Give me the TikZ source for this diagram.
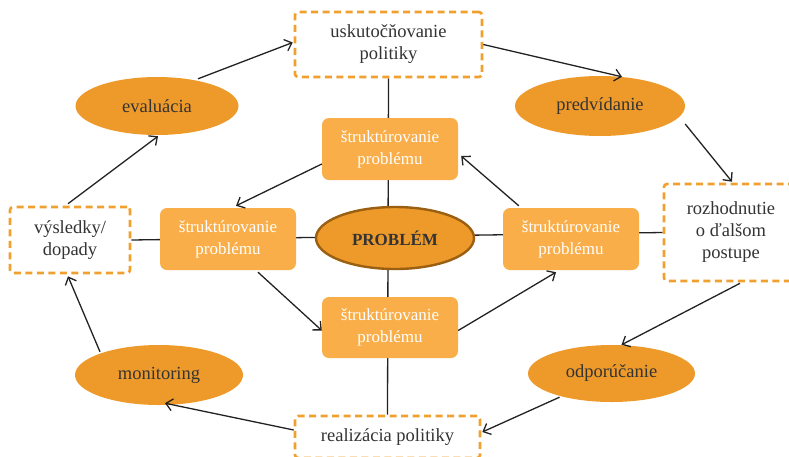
\documentclass[tikz,border=0pt]{standalone}
\usepackage{fontspec}
\setmainfont{Liberation Serif}
\usetikzlibrary{arrows.meta,shapes.geometric,calc,backgrounds}
\definecolor{ellorange}{HTML}{EE9A2A}
\definecolor{boxorange}{HTML}{F9AE4A}
\definecolor{dashorange}{HTML}{F0A02E}
\definecolor{probborder}{HTML}{9A5F10}
\definecolor{txtgray}{HTML}{333333}
\definecolor{linegray}{HTML}{222222}
\begin{document}
\begin{tikzpicture}[x=1pt,y=-1pt,
  dbox/.style={draw=dashorange, line width=2.6pt, dash pattern=on 7pt off 4.5pt,
    rounded corners=3pt, fill=white, align=center, text=txtgray, inner sep=0pt,
    font=\fontsize{18.5}{22}\selectfont},
  ell/.style={ellipse, fill=ellorange, text=txtgray, inner sep=0pt,
    font=\fontsize{18.5}{22}\selectfont},
  sbox/.style={rounded corners=7pt, fill=boxorange, text=white, align=center,
    inner sep=0pt, minimum width=136pt, font=\fontsize{17}{22}\selectfont},
  arr/.style={draw=linegray, line width=1.3pt, -{Straight Barb[length=6.5pt,width=12pt,line width=1.3pt]}},
  plain/.style={draw=linegray, line width=1.3pt}]
\useasboundingbox (0,0) rectangle (789,456);
% outer dashed boxes
\node[dbox, minimum width=187pt, minimum height=65pt] (tb) at (388.5,44.5) {uskutočňovanie\\politiky};
\node[dbox, minimum width=120pt, minimum height=66pt] (lb) at (70,240) {výsledky/\\dopady};
\node[dbox, minimum width=134pt, minimum height=97pt] (rb) at (731,232.5) {rozhodnutie\\o ďalšom\\postupe};
\node[dbox, minimum width=185pt, minimum height=42pt] (bb) at (387.5,437) {realizácia politiky};
% ellipses
\node[ell, minimum width=163pt, minimum height=58pt] (ev) at (157,106) {evaluácia};
\node[ell, minimum width=170pt, minimum height=60pt] (pv) at (600,106) {predvídanie};
\node[ell, minimum width=168pt, minimum height=60pt] (mo) at (159,375) {monitoring};
\node[ell, minimum width=167pt, minimum height=57pt] (od) at (611.5,373.5) {odporúčanie};
% center
\node[ellipse, fill=ellorange, draw=probborder, line width=2.4pt, minimum width=158pt,
  minimum height=62pt, text=txtgray, font=\fontsize{17}{20}\selectfont\bfseries] (pr) at (395,238) {PROBLÉM};
\node[sbox, minimum height=62pt] (st) at (390,149) {štruktúrovanie\\problému};
\node[sbox, minimum height=62pt] (sl) at (228,239) {štruktúrovanie\\problému};
\node[sbox, minimum height=62pt] (sr) at (571,239) {štruktúrovanie\\problému};
\node[sbox, minimum height=61pt] (sb) at (390,327.5) {štruktúrovanie\\problému};
\begin{scope}[on background layer]
\draw[plain] (tb.south) -- (bb.north);
\draw[plain] (lb.east) -- (rb.west);
\end{scope}
% inner arrows
\draw[arr] ($(sr.north west)+(16,-2)$) -- ($(st.east)+(3,7)$);
\draw[arr] ($(st.west)+(0,15)$) -- ($(sl.north)+(8,-2)$);
\draw[arr] ($(sl.south)+(30,2)$) -- ($(sb.west)+(0,3)$);
\draw[arr] ($(sb.east)+(0,3)$) -- ($(sr.south)+(-15,2)$);
% outer arrows
\draw[arr] ($(ev.north)+(41,2)$) -- ($(tb.west)+(-1,-2)$);
\draw[arr] (tb.east) -- ($(pv.north)+(22,1)$);
\draw[arr] ($(pv.east)+(0,18)$) -- ($(rb.north)+(1,-1)$);
\draw[arr] ($(rb.south)+(9,1)$) -- ($(od.north)+(10,0)$);
\draw[arr] ($(od.south)+(-52,-5)$) -- ($(bb.east)+(1,-5)$);
\draw[arr] ($(bb.west)+(0,-7)$) -- ($(mo.south)+(6,-2)$);
\draw[arr] ($(mo.north)+(-59,7)$) -- ($(lb.south)+(-2,2)$);
\draw[arr] ($(lb.north)+(-2,-2)$) -- ($(ev.south)+(1,1)$);
\end{tikzpicture}
\end{document}
